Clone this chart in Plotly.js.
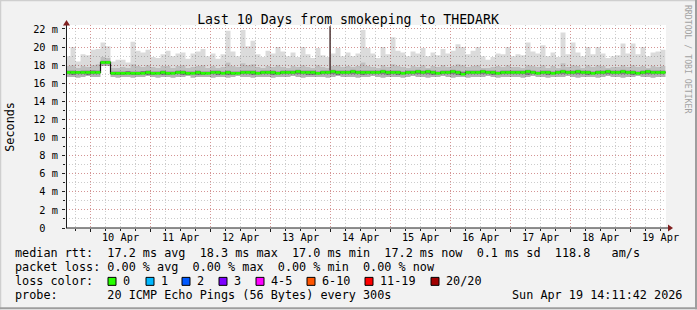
<!DOCTYPE html>
<html>
<head>
<meta charset="utf-8">
<script src="https://cdn.plot.ly/plotly-3.0.1.min.js"></script>
<style>html,body{margin:0;padding:0;background:#f2f2f2;}#chart{width:697px;height:310px;}</style>
</head>
<body>
<div id="chart"></div>
<script>
// ---------------- data (values in ms, 2-hour bins from 2026-04-09 14:00) ----------------
const binStart = '2026-04-09T14:00:00Z';
const binHours = 2;
const rttMedian = [
 17.2,17.2,17.2,17.2,17.2,17.2,17.2,18.3,18.3,17.1,
 17.1,17.1,17.1,17.1,17.1,17.1,17.2,17.1,17.1,17.2,
 17.1,17.1,17.2,17.2,17.1,17.1,17.2,17.1,17.1,17.2,
 17.2,17.1,17.2,17.1,17.1,17.2,17.2,17.2,17.1,17.2,
 17.2,17.2,17.1,17.2,17.2,17.2,17.3,17.2,17.2,17.2,
 17.1,17.2,17.2,17.3,17.2,17.2,17.2,17.3,17.2,17.2,
 17.2,17.2,17.2,17.3,17.2,17.2,17.2,17.1,17.2,17.2,
 17.3,17.2,17.3,17.2,17.1,17.2,17.2,17.3,17.2,17.0,
 17.2,17.2,17.2,17.3,17.2,17.2,17.1,17.2,17.2,17.2,
 17.2,17.2,17.3,17.2,17.1,17.2,17.2,17.1,17.2,17.3,
 17.2,17.2,17.3,17.2,17.2,17.1,17.2,17.2,17.3,17.2,
 17.2,17.3,17.2,17.2,17.1,17.2,17.3,17.2,17.2,17.2
];
const rttMin = [
 16.7,16.7,16.6,16.7,16.8,16.7,16.7,17.9,17.9,16.7,
 16.6,16.7,16.7,16.6,16.7,16.7,16.8,16.7,16.6,16.7,
 16.7,16.6,16.7,16.7,16.8,16.6,16.7,16.7,16.7,16.6,
 16.7,16.7,16.6,16.7,16.8,16.7,16.7,16.6,16.7,16.7,
 16.7,16.6,16.7,16.7,16.7,16.8,16.7,16.6,16.7,16.7,
 16.7,16.7,16.6,16.7,16.8,16.7,16.7,16.7,16.6,16.7,
 16.7,16.8,16.7,16.6,16.7,16.7,16.7,16.6,16.7,16.8,
 16.7,16.7,16.6,16.7,16.7,16.8,16.7,16.6,16.7,16.7,
 16.6,16.7,16.7,16.7,16.8,16.7,16.6,16.7,16.7,16.7,
 16.7,16.6,16.7,16.8,16.7,16.7,16.6,16.7,16.7,16.7,
 16.8,16.7,16.6,16.7,16.7,16.7,16.6,16.7,16.8,16.7,
 16.7,16.6,16.7,16.7,16.8,16.7,16.7,16.6,16.7,16.7
];
const rttLow = [
 17.0,16.9,17.0,17.0,16.9,17.0,17.0,18.1,18.1,16.9,
 16.9,16.9,17.0,16.9,16.9,17.0,16.9,16.9,17.0,16.9,
 16.9,17.0,17.0,16.9,16.9,17.0,16.9,16.9,17.0,17.0,
 16.9,17.0,16.9,16.9,17.0,17.0,17.0,16.9,17.0,17.0,
 17.0,16.9,17.0,17.0,17.0,17.0,17.0,17.0,16.9,16.9,
 17.0,17.0,17.0,17.0,16.9,17.0,17.0,17.0,17.0,16.9,
 17.0,17.0,17.0,17.0,16.9,17.0,16.9,17.0,17.0,17.0,
 17.0,17.0,17.0,16.9,17.0,17.0,17.0,17.0,16.9,16.9,
 17.0,17.0,17.0,17.0,17.0,16.9,17.0,17.0,17.0,17.0,
 17.0,17.0,16.9,17.0,17.0,17.0,16.9,17.0,17.0,17.0,
 17.0,17.0,17.0,17.0,16.9,17.0,17.0,17.0,17.0,17.0,
 17.0,17.0,17.0,16.9,17.0,17.0,17.0,17.0,17.0,17.0
];
const rttHigh = [
 17.4,17.4,17.35,17.4,17.4,17.45,17.4,18.5,18.5,17.3,
 17.3,17.3,17.35,17.3,17.3,17.35,17.4,17.3,17.3,17.4,
 17.3,17.3,17.4,17.4,17.3,17.3,17.4,17.3,17.3,17.4,
 17.4,17.3,17.4,17.3,17.3,17.4,17.4,17.4,17.3,17.4,
 17.4,17.4,17.3,17.4,17.4,17.4,17.5,17.4,17.4,17.4,
 17.3,17.4,17.4,17.5,17.4,17.4,17.4,17.5,17.4,17.4,
 17.4,17.4,17.4,17.5,17.4,17.4,17.4,17.3,17.4,17.4,
 17.5,17.4,17.5,17.4,17.3,17.4,17.4,17.5,17.4,17.3,
 17.4,17.4,17.4,17.5,17.4,17.4,17.3,17.4,17.4,17.4,
 17.4,17.4,17.5,17.4,17.3,17.4,17.4,17.3,17.4,17.5,
 17.4,17.4,17.5,17.4,17.4,17.3,17.4,17.4,17.5,17.4,
 17.4,17.5,17.4,17.4,17.3,17.4,17.5,17.4,17.4,17.4
];
const rttUpper = [
 17.9,18.0,17.7,17.9,17.8,18.0,18.1,18.9,18.8,17.7,
 17.7,17.8,17.7,18.1,17.9,17.8,18.0,17.8,17.7,17.9,
 17.9,17.7,17.9,18.0,17.7,17.8,17.9,18.0,17.7,17.9,
 17.7,17.8,18.3,17.9,17.8,18.2,18.0,18.1,17.8,17.7,
 17.9,17.8,18.0,17.8,17.7,17.9,17.8,18.0,17.8,17.7,
 18.0,17.8,17.7,17.9,18.0,17.8,17.9,17.8,17.9,18.3,
 17.9,17.8,17.7,18.0,17.8,18.1,17.9,17.8,17.7,17.9,
 17.8,18.0,17.7,17.9,17.8,18.0,17.8,17.9,18.1,18.0,
 17.8,17.9,18.0,17.7,17.7,17.8,17.9,17.8,18.0,17.8,
 17.8,17.7,18.0,17.9,17.8,18.0,17.7,17.9,17.7,18.2,
 17.8,18.0,17.9,17.7,18.0,17.8,18.0,17.9,17.7,17.8,
 17.8,18.0,17.8,18.0,17.8,17.9,17.7,17.9,17.8,17.9
];
const rttMax = [
 19.0,20.0,18.4,19.2,19.1,19.7,19.8,20.5,20.1,18.4,
 18.6,18.6,18.3,20.6,19.6,19.4,19.7,18.9,18.8,19.2,
 19.6,19.0,19.3,19.4,18.7,19.3,19.5,19.8,19.0,19.3,
 18.7,19.2,21.8,19.5,19.0,21.9,20.1,20.7,19.2,18.9,
 19.6,19.3,20.0,19.5,19.0,19.4,18.9,20.0,19.2,18.8,
 19.9,19.1,18.9,19.3,19.9,19.0,19.4,19.0,19.3,21.9,
 19.9,19.3,18.8,20.0,19.2,21.1,19.6,19.4,19.0,19.5,
 19.3,19.9,19.0,19.4,19.1,19.8,19.3,19.6,20.3,20.0,
 19.2,19.6,20.0,19.0,18.6,18.9,19.3,19.2,20.0,19.0,
 19.2,19.1,20.5,19.5,19.3,20.2,19.0,19.4,18.9,21.6,
 19.2,20.5,19.4,19.0,20.0,19.2,20.0,19.3,18.8,19.0,
 19.1,20.4,19.3,20.4,19.2,20.0,19.0,19.4,19.5,19.7
];
// single tall outlier column (clipped at the top of the graph)
const spikeTime = ['2026-04-13 23:50:00'];
const spikeFrom = [17.4];
const spikeTo = [22.3];

const rangeStart = '2026-04-09 14:11:42';
const rangeEnd = '2026-04-19 14:11:42';
const dayDates = ['2026-04-10','2026-04-11','2026-04-12','2026-04-13','2026-04-14','2026-04-15','2026-04-16','2026-04-17','2026-04-18','2026-04-19'];
const dayLabels = ['10 Apr','11 Apr','12 Apr','13 Apr','14 Apr','15 Apr','16 Apr','17 Apr','18 Apr','19 Apr'];
const yTickVals = [0,2,4,6,8,10,12,14,16,18,20,22];
const yTickText = ['0\u00a0\u00a0','2 m','4 m','6 m','8 m','10 m','12 m','14 m','16 m','18 m','20 m','22 m'];

const titleText = 'Last 10 Days from smokeping to THEDARK';
const medianStats = ['17.2 ms avg','18.3 ms max','17.0 ms min','17.2 ms now','0.1 ms sd','118.8   am/s'];
const lossStats = ['0.00 % avg','0.00 % max','0.00 % min','0.00 % now'];
const lossLabels = ['0','1','2','3','4-5','6-10','11-19','20/20'];
const lossColors = ['#26ff00','#00b8ff','#0059ff','#7e00ff','#ff00ff','#ff5500','#ff0000','#a10000'];
const probeText = '20 ICMP Echo Pings (56 Bytes) every 300s';
const stampText = 'Sun Apr 19 14:11:42 2026';
const sideText = 'RRDTOOL / TOBI OETIKER';

// ---------------- build ----------------
const t0 = Date.parse(binStart);
const n = rttMedian.length;
const fmt = ms => new Date(ms).toISOString().replace('T',' ').slice(0,19);
const times = [];
for (let i = 0; i <= n; i++) times.push(fmt(t0 + i*binHours*3600000));
const ext = a => a.concat([a[a.length-1]]);

const band = (arr, fill) => ({
  x: times, y: ext(arr), type:'scatter', mode:'lines',
  line:{width:0, shape:'hv'}, fill: fill ? 'tonexty' : 'none',
  fillcolor: fill || 'rgba(0,0,0,0)', hoverinfo:'skip'
});

const traces = [
  band(rttMin, null),
  band(rttLow, 'rgba(0,0,0,0.30)'),
  band(rttHigh, 'rgba(0,0,0,0.50)'),
  band(rttUpper, 'rgba(0,0,0,0.25)'),
  band(rttMax, 'rgba(0,0,0,0.14)')
];
// spike
traces.push({x:[spikeTime[0],spikeTime[0]], y:[spikeFrom[0], spikeTo[0]], type:'scatter', mode:'lines',
  line:{color:'#5a4444', width:1.6}, hoverinfo:'skip'});
// dark step line (shows transitions)
traces.push({x:times, y:ext(rttMedian), type:'scatter', mode:'lines', line:{color:'#151515', width:1.2, shape:'hv'}, hoverinfo:'skip'});
// green horizontal median segments
const gx = [], gy = [];
for (let i = 0; i < n; i++) { gx.push(times[i], times[i+1], null); gy.push(rttMedian[i], rttMedian[i], null); }
traces.push({x:gx, y:gy, type:'scatter', mode:'lines', line:{color:lossColors[0], width:2.6}, connectgaps:false, hoverinfo:'skip'});
// carrier for label axis
traces.push({x:[rangeStart], y:[0], xaxis:'x2', type:'scatter', mode:'markers', marker:{opacity:0, size:1}, hoverinfo:'skip'});

// pixel helpers
const L = 66, R = 666, T = 25, B = 228.5;
const W = R - L, H = B - T;
const px = p => (p - L) / W;
const py = p => (B - p) / H;
const nb = s => s.replace(/ /g, '\u00a0');
const mono = 'DejaVu Sans Mono';
const gridGray = 'rgba(143,143,143,0.45)';
const gridRed = 'rgba(222,79,79,0.45)';

const ann = [];
const txt = (x, y, s, extra) => ann.push(Object.assign({xref:'paper', yref:'paper', x:px(x), y:py(y), text:nb(s),
  showarrow:false, xanchor:'left', yanchor:'middle', font:{family:mono, size:11.8, color:'#000'}, borderpad:0}, extra||{}));
txt(14, 254, 'median rtt:  ' + medianStats.join('  '));
txt(14, 268, 'packet loss: ' + lossStats.join('  '));
txt(14, 282, 'loss color:');
txt(14, 296, 'probe:       ' + probeText);
txt(511, 296, stampText);
const boxX = [108,146,182,219,256,307,365,431];
const shapes = [];
lossLabels.forEach((lab, i) => {
  txt(boxX[i] + 13.5, 282, lab);
  shapes.push({type:'rect', xref:'paper', yref:'paper', x0:px(boxX[i]), x1:px(boxX[i]+8), y0:py(278), y1:py(286),
    fillcolor:lossColors[i], line:{color:'#000', width:1}});
});
// Seconds label
ann.push({xref:'paper', yref:'paper', x:px(10), y:py(127), text:'Seconds', textangle:-90, showarrow:false,
  xanchor:'center', yanchor:'middle', font:{family:mono, size:11.8, color:'#000'}});
// side watermark
ann.push({xref:'paper', yref:'paper', x:px(688), y:py(59), text:nb(sideText), textangle:90, showarrow:false,
  xanchor:'center', yanchor:'middle', font:{family:mono, size:8.2, color:'#a2a2a2'}});

// axes lines and arrows
shapes.push({type:'line', xref:'paper', yref:'paper', x0:px(66), x1:px(670), y0:py(228.5), y1:py(228.5), line:{color:'#1f1f1f', width:1}});
shapes.push({type:'line', xref:'paper', yref:'paper', x0:px(66.5), x1:px(66.5), y0:py(228.5), y1:py(23), line:{color:'#1f1f1f', width:1}});
shapes.push({type:'path', xref:'paper', yref:'paper',
  path:`M ${px(668)} ${py(225)} L ${px(673)} ${py(228.5)} L ${px(668)} ${py(232)} Z`, fillcolor:'#801f1f', line:{width:0}});
shapes.push({type:'path', xref:'paper', yref:'paper',
  path:`M ${px(63)} ${py(25.5)} L ${px(66.5)} ${py(20)} L ${px(70)} ${py(25.5)} Z`, fillcolor:'#801f1f', line:{width:0}});
// frame
shapes.push({type:'line', xref:'paper', yref:'paper', x0:px(0), x1:px(697), y0:py(0.5), y1:py(0.5), line:{color:'#cfcfcf', width:1.5}});
shapes.push({type:'line', xref:'paper', yref:'paper', x0:px(0.5), x1:px(0.5), y0:py(0), y1:py(310), line:{color:'#cfcfcf', width:1.5}});
shapes.push({type:'line', xref:'paper', yref:'paper', x0:px(0), x1:px(697), y0:py(309), y1:py(309), line:{color:'#9e9e9e', width:2}});
shapes.push({type:'line', xref:'paper', yref:'paper', x0:px(696), x1:px(696), y0:py(0), y1:py(310), line:{color:'#9e9e9e', width:2}});

const layout = {
  width:697, height:310,
  margin:{l:L, r:697-R, t:T, b:310-B, pad:0},
  paper_bgcolor:'#f2f2f2', plot_bgcolor:'#ffffff',
  showlegend:false, hovermode:false,
  title:{text:titleText, font:{family:mono, size:13.2, color:'#000'}, x:348/697, xref:'container', xanchor:'center',
    y:1-19/310, yref:'container', yanchor:'middle'},
  xaxis:{type:'date', range:[rangeStart, rangeEnd], tickmode:'array', tickvals:dayDates, showticklabels:false,
    showgrid:true, gridcolor:gridRed, griddash:'1px,2px', gridwidth:1, zeroline:false, showline:false,
    ticks:'outside', ticklen:3, tickcolor:'#1f1f1f', tickwidth:1,
    minor:{tick0:dayDates[0], dtick:6*3600000, showgrid:true, gridcolor:gridGray, griddash:'1px,2px', gridwidth:1,
      ticks:'outside', ticklen:2, tickcolor:'#1f1f1f'}},
  xaxis2:{type:'date', overlaying:'x', anchor:'y', side:'bottom', range:[rangeStart, rangeEnd], tickmode:'array',
    tickvals:dayDates.map(d => d + ' 12:00:00'), ticktext:dayLabels, showgrid:false, zeroline:false, showline:false,
    ticks:'', ticklabelstandoff:2, tickfont:{family:mono, size:10.3, color:'#000'}},
  yaxis:{range:[0, H/ (199.5/22)], tickmode:'array', tickvals:yTickVals, ticktext:yTickText,
    showgrid:true, gridcolor:gridRed, griddash:'1px,2px', gridwidth:1, zeroline:false, showline:false,
    ticks:'outside', ticklen:3, tickcolor:'#1f1f1f', ticklabelstandoff:2,
    tickfont:{family:mono, size:10.3, color:'#000'},
    minor:{dtick:1, showgrid:true, gridcolor:gridGray, griddash:'1px,2px', gridwidth:1, ticks:'outside', ticklen:2, tickcolor:'#1f1f1f'}},
  annotations:ann,
  shapes:shapes
};
Plotly.newPlot('chart', traces, layout, {staticPlot:true, displayModeBar:false});
</script>
</body>
</html>
